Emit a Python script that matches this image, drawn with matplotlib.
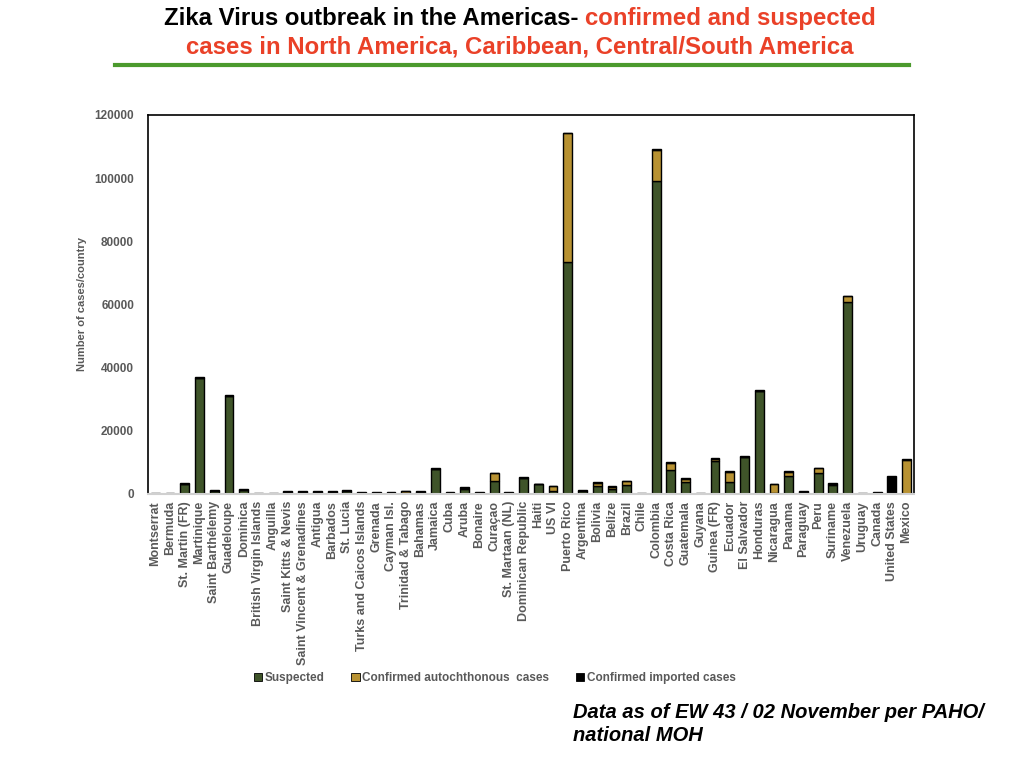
import numpy as np
import matplotlib.pyplot as plt
from matplotlib.patches import Patch

plt.rcParams["font.family"] = ["Liberation Sans", "DejaVu Sans"]

countries = ["Montserrat", "Bermuda", "St. Martin (FR)", "Martinique", "Saint Barthélemy",
             "Guadeloupe", "Dominica", "British Virgin Islands", "Anguilla",
             "Saint Kitts & Nevis", "Saint Vincent & Grenadines", "Antigua", "Barbados",
             "St. Lucia", "Turks and Caicos Islands", "Grenada", "Cayman Isl.",
             "Trinidad & Tabago", "Bahamas", "Jamaica", "Cuba", "Aruba", "Bonaire",
             "Curaçao", "St. Martaan (NL)", "Dominican Republic", "Haiti", "US VI",
             "Puerto Rico", "Argentina", "Bolivia", "Belize", "Brazil", "Chile",
             "Colombia", "Costa Rica", "Guatemala", "Guyana", "Guinea (FR)", "Ecuador",
             "El Salvador", "Honduras", "Nicaragua", "Panama", "Paraguay", "Peru",
             "Suriname", "Venezuela", "Uruguay", "Canada", "United States", "Mexico"]

suspected = [100, 100, 3300, 36700, 1000, 31000, 1400, 100, 100, 700, 700, 700, 700,
             1000, 400, 400, 400, 300, 700, 8000, 400, 1700, 400, 4200, 400, 5200,
             3100, 1100, 73400, 800, 2400, 1700, 3000, 0, 99100, 7500, 3700, 100,
             10300, 3700, 11800, 32700, 200, 5600, 700, 6500, 2700, 60800, 0, 0, 0, 0]

autochthonous = [0, 0, 0, 0, 0, 0, 0, 0, 0, 0, 0, 0, 0, 0, 0, 0, 0, 500, 0, 0, 0,
                 300, 0, 2300, 0, 0, 0, 1300, 40800, 0, 1200, 600, 1000, 0, 9900,
                 2400, 1200, 0, 700, 3400, 0, 0, 2900, 1500, 0, 1700, 600, 1800,
                 0, 0, 100, 10800]

imported = [100, 100, 200, 300, 200, 300, 200, 100, 100, 200, 200, 200, 200, 200, 200,
            200, 200, 200, 200, 200, 200, 200, 200, 100, 200, 200, 100, 100, 200, 400,
            200, 200, 100, 200, 100, 100, 100, 150, 300, 100, 200, 300, 100, 100, 200,
            100, 200, 100, 200, 550, 5500, 200]

green = "#3f5429"
gold = "#b89232"
grey = "#595959"

suspected = np.array(suspected)
autochthonous = np.array(autochthonous)
imported = np.array(imported)
x = np.arange(len(countries))

fig = plt.figure(figsize=(10.24, 7.68), dpi=100)
ax = fig.add_axes([0.1445, 0.3568, 0.748, 0.4935])

ax.bar(x, suspected, width=0.6, color=green, edgecolor="black", linewidth=1.0)
ax.bar(x, autochthonous, width=0.6, bottom=suspected, color=gold,
       edgecolor="black", linewidth=1.0)
ax.bar(x, imported, width=0.6, bottom=suspected + autochthonous, color="black",
       edgecolor="black", linewidth=1.0)

ax.set_xlim(-0.5, len(countries) - 0.5)
ax.set_ylim(0, 120000)
ax.set_yticks(np.arange(0, 120001, 20000))
ax.set_xticks(x)
ax.set_xticklabels(countries, rotation=90, fontsize=9, fontweight="bold", color=grey)
ax.tick_params(axis="y", labelsize=8.5, labelcolor=grey, length=0, pad=10)
ax.tick_params(axis="x", length=0, pad=5)
for lab in ax.get_yticklabels():
    lab.set_fontweight("bold")
ax.set_ylabel("Number of cases/country", fontsize=8, fontweight="bold", color=grey,
              labelpad=5)
ax.spines["bottom"].set_color("#d0d0d0")
ax.spines["bottom"].set_linewidth(1.5)
for s in ["left", "right", "top"]:
    ax.spines[s].set_linewidth(1.2)

handles = [Patch(facecolor=green, edgecolor="black", linewidth=0.6),
           Patch(facecolor=gold, edgecolor="black", linewidth=0.6),
           Patch(facecolor="black", edgecolor="black", linewidth=0.6)]
fig.legend(handles, ["Suspected", "Confirmed autochthonous  cases", "Confirmed imported cases"],
           loc="center", bbox_to_anchor=(0.483, 0.117), ncol=3, frameon=False,
           handlelength=0.7, handleheight=0.7, handletextpad=0.2, columnspacing=2.3,
           prop={"size": 8.5, "weight": "bold"}, labelcolor=grey)

cx = 0.508
t1 = fig.text(cx, 0.967, "Zika Virus outbreak in the Americas- ", ha="right", va="baseline",
              fontsize=17.3, fontweight="bold", color="black")
t2 = fig.text(cx, 0.967, "confirmed and suspected", ha="left", va="baseline",
              fontsize=17.3, fontweight="bold", color="#ea4128")
fig.canvas.draw()
w1 = t1.get_window_extent().width / fig.bbox.width
w2 = t2.get_window_extent().width / fig.bbox.width
shift = (w1 - w2) / 2
t1.set_x(cx + shift)
t2.set_x(cx + shift)
fig.text(cx, 0.93, "cases in North America, Caribbean, Central/South America", ha="center",
         va="baseline", fontsize=17.3, fontweight="bold", color="#ea4128")
fig.add_artist(plt.Line2D([0.112, 0.888], [0.916, 0.916], color="#4b9a2d", linewidth=3))

fig.text(0.56, 0.057, "Data as of EW 43 / 02 November per PAHO/\nnational MOH", ha="left",
         va="center", fontsize=14.5, fontweight="bold", fontstyle="italic", linespacing=1.25)

fig.savefig("out.png", dpi=100)
